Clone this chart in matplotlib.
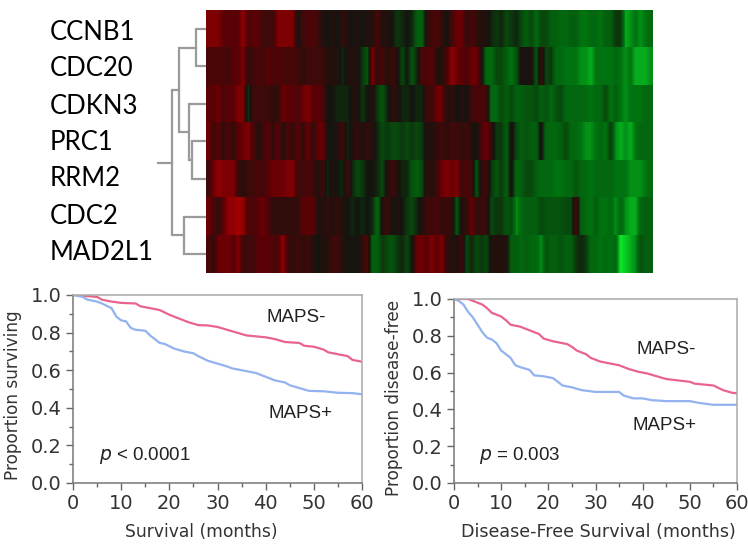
import matplotlib
matplotlib.use("Agg")
import matplotlib.pyplot as plt
import numpy as np
from matplotlib.colors import LinearSegmentedColormap

genes = ["CCNB1", "CDC20", "CDKN3", "PRC1", "RRM2", "CDC2", "MAD2L1"]

# expression, + is red, - is green
ccnb1 = [7,7,7,5,5,5,5,8,4,5,5,3,3,3,7,7,7,7,0,3,4,4,3,1,0,1,0,2,1,0,
         1,0,1,1,4,1,1,0,-2,-1,0,-1,-5,-5,2,3,4,2,0,3,6,6,2,4,2,1,1,-1,-2,-1,
         -3,-2,-1,-3,-5,-3,-6,-3,-3,-5,-5,-6,-6,-5,-5,-7,-7,-6,-6,-7,-5,-5,-2,-2,-9,-8,-7,-8,-7,-6]
cdc20 = [4,4,4,4,3,5,5,7,2,3,4,3,5,4,4,4,3,4,3,2,3,3,3,3,1,1,1,-1,1,1,
         1,-2,-4,7,2,4,1,3,1,-3,0,-4,-1,4,4,5,1,1,4,8,6,5,4,6,6,1,-6,-6,-3,-3,
         -5,-7,-4,1,0,1,-4,3,-3,-2,-6,-6,-7,-7,-7,-8,-8,-9,-7,-7,-7,-7,-6,-7,-8,-7,-9,-9,-9,-8]
cdkn3 = [5,5,6,4,5,5,7,7,-2,3,3,3,3,2,2,6,5,5,4,6,7,5,5,4,0,0,-1,-1,-1,1,
         1,-2,0,1,-2,-4,-1,2,1,-1,-1,0,-1,-1,3,3,6,6,1,2,0,1,0,3,4,4,3,-6,-6,-3,
         -5,-3,-5,-5,-4,-4,-3,-5,-4,-6,-4,-3,-6,-6,-6,-6,-6,-7,-6,-6,-3,-7,-5,-7,-8,-7,-7,-7,-6,-6]
prc1 = [6,3,5,2,4,2,5,6,7,4,1,3,5,2,5,1,4,2,5,2,6,2,5,6,0,0,1,3,-1,1,
        2,1,2,1,-1,-3,-2,-3,-3,-2,-3,-2,-3,-2,1,1,2,3,2,3,3,2,3,1,0,4,6,2,-2,-2,
        -5,1,-3,-5,-4,-5,-5,1,-6,-6,-6,-5,-3,-6,-6,-7,-8,-8,-7,-6,-7,-2,-8,-9,-8,-9,-7,-6,-6,-6]
rrm2 = [3,6,8,7,7,7,3,1,3,3,4,3,5,6,6,6,7,7,3,3,4,3,1,3,-1,1,0,-1,3,-1,
        -3,-2,0,0,-1,-3,1,3,1,-1,-1,-4,-5,-3,2,1,3,6,7,6,7,3,4,3,-4,2,3,-2,-4,-2,
        -5,1,-6,-5,-3,-3,-5,-6,-6,-6,-7,-7,-6,-6,-4,-6,-6,-7,-6,-6,-6,-6,-7,-7,-7,-8,-8,-8,-7,-6]
cdc2 = [6,4,2,5,8,8,9,8,4,4,5,6,4,2,2,2,2,2,2,5,5,5,1,1,2,1,2,1,0,-1,
        0,-1,0,-1,-6,1,3,0,1,0,-2,-3,-1,1,3,3,4,2,3,2,-4,1,2,6,2,3,2,-3,-2,-2,
        -4,-3,-8,-6,-5,-5,-5,-3,-4,-4,-4,-4,-3,-3,4,-5,-6,-7,-5,-7,-7,-6,-8,-6,-8,-9,-9,-6,-5,-5]
mad2l1 = [4,2,6,6,6,5,7,3,3,3,5,5,5,4,4,8,3,2,3,2,3,1,0,1,1,3,3,1,0,0,
          0,2,4,-5,-5,-2,-3,-4,-2,-1,-3,0,6,6,5,7,5,7,2,1,1,3,-3,-1,-3,-2,-3,1,1,1,
          1,-5,-5,-6,-5,-6,-6,-8,-4,-5,-5,-4,-5,-5,-2,-1,-2,-6,-6,-7,-6,-7,-6,-11,-10,-9,-8,-4,-5,-5]

# nested merges: (distance, left, right), a plain int is a row of the heatmap
leaf_dist = 49
tree = (15, (22, (39, 0, 1), (32, 2, (35, 3, 4))), (27, 5, 6))

surv_neg_t = [0,5,6,8,10,13,14,16,18,20,22,24,26,28,30,32,34,36,38,40,42,44,47,48,50,52,53,55,57,58,60]
surv_neg = [1,.99,.975,.965,.958,.955,.94,.93,.92,.895,.875,.855,.84,.838,.83,.815,.80,.785,.78,.775,.765,.75,.745,.73,.725,.71,.695,.685,.675,.655,.645]
surv_pos_t = [0,2,3,5,6,8,9,10,11,12,13,15,16,17,18,19,21,23,25,26,28,30,32,33,35,38,40,42,44,45,47,49,52,55,58,60]
surv_pos = [1,.99,.975,.965,.955,.93,.885,.865,.86,.825,.815,.81,.785,.765,.745,.74,.715,.70,.69,.675,.65,.635,.62,.61,.60,.585,.565,.545,.535,.52,.505,.49,.488,.48,.478,.472]

dfs_neg_t = [0,3,4,6,7,8,10,11,12,14,16,18,19,21,24,25,26,28,29,31,33,35,37,39,41,43,45,50,51,55,57,59,60]
dfs_neg = [1,1,.99,.97,.95,.925,.905,.885,.86,.85,.83,.81,.785,.77,.755,.74,.72,.70,.68,.66,.65,.64,.62,.605,.595,.58,.565,.55,.54,.53,.505,.49,.488]
dfs_pos_t = [0,1,2,3,4,5,6,7,8,9,10,11,12,13,14,16,17,19,21,22,23,25,27,30,35,36,38,40,42,45,50,52,55,60]
dfs_pos = [1,.99,.97,.93,.90,.86,.82,.79,.78,.76,.72,.70,.68,.64,.63,.615,.585,.58,.57,.55,.53,.52,.505,.495,.495,.475,.46,.46,.45,.445,.445,.435,.425,.425]

W, H = 748, 550
fig = plt.figure(figsize=(W / 100, H / 100), dpi=100)


def px_axes(x0, y0, x1, y1):
    return fig.add_axes([x0 / W, 1 - y1 / H, (x1 - x0) / W, (y1 - y0) / H])


def px_text(x, y, s, **kw):
    fig.text(x / W, 1 - y / H, s, **kw)


# heatmap, each row on its own so the blur stays horizontal
cmap = LinearSegmentedColormap.from_list("rg", [
    (0.0, (0.05, 0.90, 0.16)),
    (0.18, (0.0, 0.45, 0.06)),
    (0.36, (0.03, 0.29, 0.05)),
    (0.5, (0.08, 0.08, 0.06)),
    (0.75, (0.38, 0.0, 0.02)),
    (1.0, (0.78, 0.0, 0.0)),
])
matrix = np.array([ccnb1, cdc20, cdkn3, prc1, rrm2, cdc2, mad2l1])
n_rows, n_cols = matrix.shape
ax = px_axes(206, 10, 653, 273)
for i, row in enumerate(matrix):
    ax.imshow(row[np.newaxis, :], cmap=cmap, vmin=-11, vmax=11, aspect="auto",
              interpolation="bilinear", extent=[0, n_cols, i + 1, i])
ax.set_xlim(0, n_cols)
ax.set_ylim(n_rows, 0)
ax.axis("off")

# dendrogram
dn = px_axes(157, 10, 206, 273)
dn.set_xlim(0, leaf_dist)
dn.set_ylim(6.5, -0.5)
dn.axis("off")


def draw_node(node):
    # returns x, y of where the parent branch joins
    if isinstance(node, int):
        return leaf_dist, node
    d, a, b = node
    ax_, ya = draw_node(a)
    bx_, yb = draw_node(b)
    dn.plot([bx_, d, d, ax_], [yb, yb, ya, ya], color="#9a9a9a", lw=1.6, solid_joinstyle="miter")
    return d, (ya + yb) / 2


root_x, root_y = draw_node(tree)
dn.plot([0, root_x], [root_y, root_y], color="#9a9a9a", lw=1.6)

gene_ys = [33, 68, 106, 143, 179, 217, 253]
for g, y in zip(genes, gene_ys):
    px_text(50, y, g, fontsize=18.5, family="Lato", color="black", va="center", ha="left")


def km_panel(box, neg_t, neg, pos_t, pos):
    a = px_axes(*box)
    a.plot(neg_t, neg, color="#E8648E", lw=1.6)
    a.plot(pos_t, pos, color="#92B2F0", lw=1.6)
    a.set_xlim(0, 60)
    a.set_ylim(0, 1)
    a.set_xticks(range(0, 61, 10))
    a.set_xticks(range(5, 60, 10), minor=True)
    a.set_yticks(np.arange(0, 1.01, 0.2))
    a.set_yticks(np.arange(0.1, 1, 0.2), minor=True)
    a.tick_params(which="major", length=5, width=1, color="#666666", labelsize=14, labelcolor="#333333", pad=3)
    a.tick_params(which="minor", length=3, width=1, color="#666666")
    for side in a.spines:
        a.spines[side].set_color("#777777")
        a.spines[side].set_linewidth(1.1)
    a.spines["top"].set_color("#aaaaaa")
    a.spines["right"].set_color("#aaaaaa")
    return a


km_panel((73, 295, 362, 483), surv_neg_t, surv_neg, surv_pos_t, surv_pos)
km_panel((454, 299, 737, 483), dfs_neg_t, dfs_neg, dfs_pos_t, dfs_pos)

label_kw = dict(color="#333333", va="center", ha="center")
px_text(201, 532, "Survival (months)", fontsize=12.3, **label_kw)
px_text(598, 532, "Disease-Free Survival (months)", fontsize=12.6, **label_kw)
px_text(13, 395, "Proportion surviving", fontsize=12.2, rotation=90, **label_kw)
px_text(394, 398, "Proportion disease-free", fontsize=12.2, rotation=90, **label_kw)

note_kw = dict(family="Liberation Sans", color="#222222", va="center", ha="left", fontsize=13.5)
px_text(267, 317, "MAPS-", **note_kw)
px_text(269, 413, "MAPS+", **note_kw)
px_text(636, 349, "MAPS-", **note_kw)
px_text(633, 426, "MAPS+", **note_kw)
px_text(99, 455, r"$\mathit{p}$ < 0.0001", **note_kw)
px_text(479, 455, r"$\mathit{p}$ = 0.003", **note_kw)

fig.savefig("out.png", dpi=100)
